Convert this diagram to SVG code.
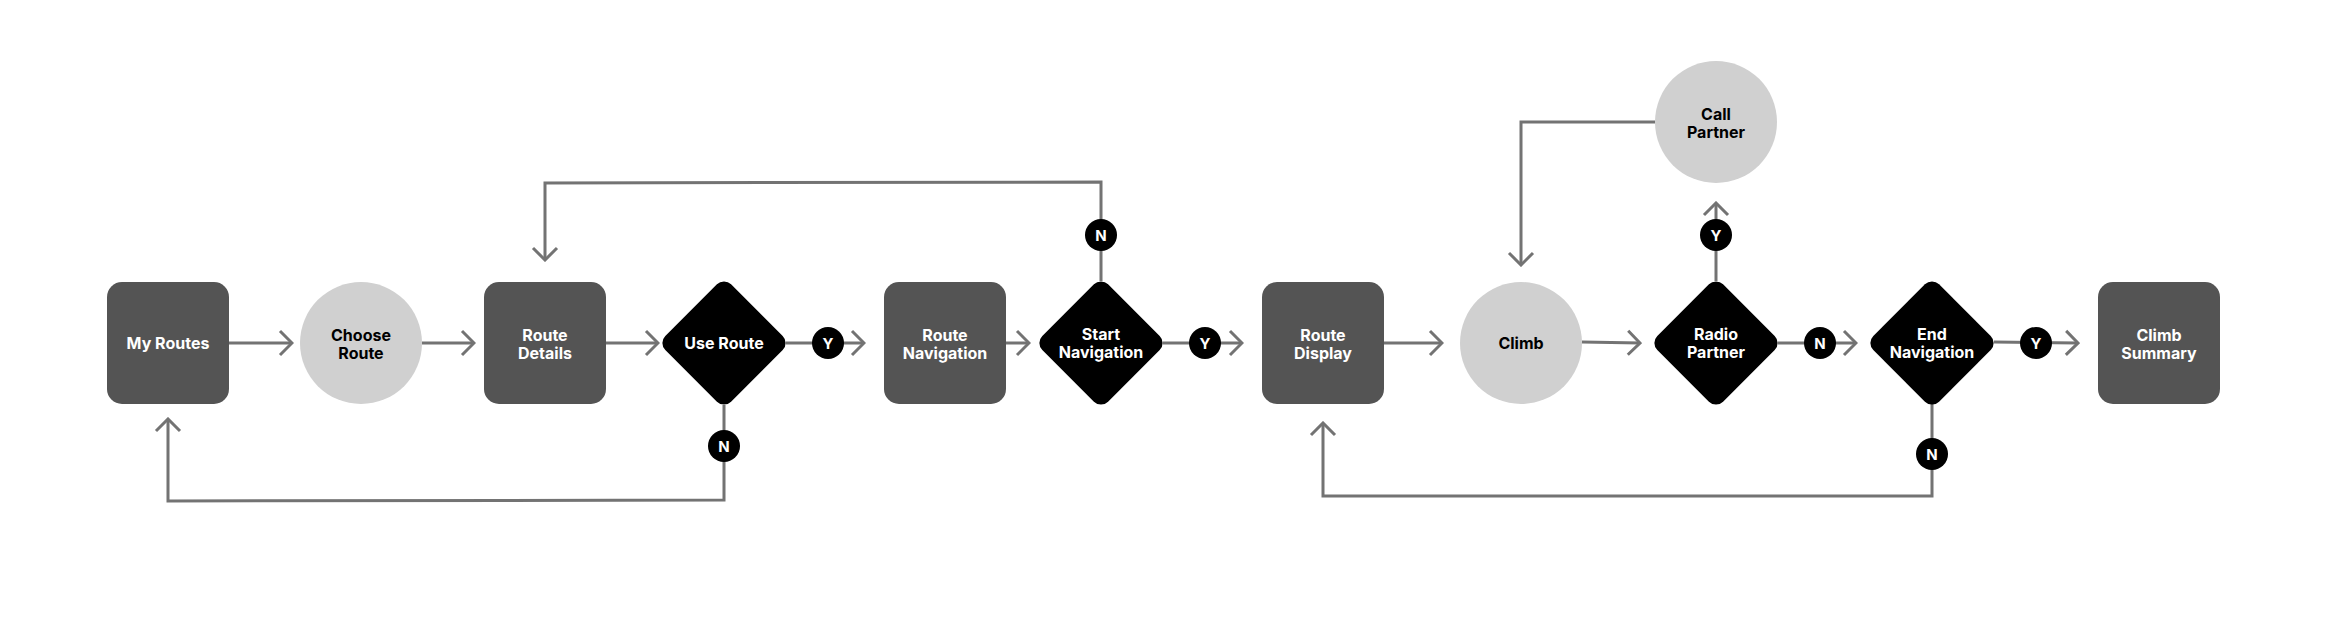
<svg xmlns="http://www.w3.org/2000/svg" width="2327" height="620" viewBox="0 0 2327 620">
<style>
.box{fill:#545454}
.circ{fill:#d0d0d0}
.dia{fill:#000}
.lbl{font-family:Inter,"Noto Sans","Liberation Sans",sans-serif;font-weight:700;font-size:16px;text-anchor:middle}
.w{fill:#fff}
.k{fill:#000}
.con{fill:none;stroke:#737373;stroke-width:3}
.badge{fill:#000}
.bt{font-family:Inter,"Noto Sans","Liberation Sans",sans-serif;font-weight:700;font-size:15px;text-anchor:middle;fill:#fff}
</style>
<defs>
<marker id="arr" viewBox="0 0 16 28" refX="14" refY="14" markerWidth="16" markerHeight="28" orient="auto" markerUnits="userSpaceOnUse">
<path d="M2,2 L14,14 L2,26" fill="none" stroke="#737373" stroke-width="3"/>
</marker>
</defs>
<rect width="2327" height="620" fill="#fff"/>
<g id="connectors">
<path class="con" d="M228,343 H292" marker-end="url(#arr)"/>
<path class="con" d="M422,343 H474" marker-end="url(#arr)"/>
<path class="con" d="M606,343 H658" marker-end="url(#arr)"/>
<path class="con" d="M786,343 H864" marker-end="url(#arr)"/>
<path class="con" d="M1006,343 H1029" marker-end="url(#arr)"/>
<path class="con" d="M1163,343 H1242" marker-end="url(#arr)"/>
<path class="con" d="M1383,343 H1442" marker-end="url(#arr)"/>
<path class="con" d="M1582,342 L1640,343" marker-end="url(#arr)"/>
<path class="con" d="M1778,343 H1856" marker-end="url(#arr)"/>
<path class="con" d="M1994,342 L2078,343" marker-end="url(#arr)"/>
<path class="con" d="M1716,281 V203" marker-end="url(#arr)"/>
<path class="con" d="M1655,122 H1521 V265" marker-end="url(#arr)"/>
<path class="con" d="M1101,281 V182 L545,183 V260" marker-end="url(#arr)"/>
<path class="con" d="M724,405 V500 L168,501 V419" marker-end="url(#arr)"/>
<path class="con" d="M1932,404 V496 H1323 V423" marker-end="url(#arr)"/>
<g id="badges">
<circle class="badge" cx="1101" cy="235" r="16"/><text class="bt" x="1101" y="240.5">N</text>
<circle class="badge" cx="724" cy="446" r="16"/><text class="bt" x="724" y="451.5">N</text>
<circle class="badge" cx="828" cy="343" r="16"/><text class="bt" x="828" y="348.5">Y</text>
<circle class="badge" cx="1205" cy="343" r="16"/><text class="bt" x="1205" y="348.5">Y</text>
<circle class="badge" cx="1716" cy="235" r="16"/><text class="bt" x="1716" y="240.5">Y</text>
<circle class="badge" cx="1820" cy="343" r="16"/><text class="bt" x="1820" y="348.5">N</text>
<circle class="badge" cx="2036" cy="343" r="16"/><text class="bt" x="2036" y="348.5">Y</text>
<circle class="badge" cx="1932" cy="454" r="16"/><text class="bt" x="1932" y="459.5">N</text>
</g>
</g>
<g id="my-routes">
<rect class="box" x="107" y="282" width="122" height="122" rx="15"/>
<text class="lbl w" x="168" y="349">My Routes</text>
</g>
<g id="choose-route">
<circle class="circ" cx="361" cy="343" r="61"/>
<text class="lbl k" x="361" y="341">Choose</text>
<text class="lbl k" x="361" y="359">Route</text>
</g>
<g id="route-details">
<rect class="box" x="484" y="282" width="122" height="122" rx="15"/>
<text class="lbl w" x="545" y="341">Route</text>
<text class="lbl w" x="545" y="359">Details</text>
</g>
<g id="use-route">
<rect class="dia" x="677.5" y="296.5" width="93" height="93" rx="10" transform="rotate(45 724 343)"/>
<text class="lbl w" x="724" y="349">Use Route</text>
</g>
<g id="route-navigation">
<rect class="box" x="884" y="282" width="122" height="122" rx="15"/>
<text class="lbl w" x="945" y="341">Route</text>
<text class="lbl w" x="945" y="359">Navigation</text>
</g>
<g id="start-navigation">
<rect class="dia" x="1054.5" y="296.5" width="93" height="93" rx="10" transform="rotate(45 1101 343)"/>
<text class="lbl w" x="1101" y="340">Start</text>
<text class="lbl w" x="1101" y="358">Navigation</text>
</g>
<g id="route-display">
<rect class="box" x="1262" y="282" width="122" height="122" rx="15"/>
<text class="lbl w" x="1323" y="341">Route</text>
<text class="lbl w" x="1323" y="359">Display</text>
</g>
<g id="climb">
<circle class="circ" cx="1521" cy="343" r="61"/>
<text class="lbl k" x="1521" y="349">Climb</text>
</g>
<g id="radio-partner">
<rect class="dia" x="1669.5" y="296.5" width="93" height="93" rx="10" transform="rotate(45 1716 343)"/>
<text class="lbl w" x="1716" y="340">Radio</text>
<text class="lbl w" x="1716" y="358">Partner</text>
</g>
<g id="call-partner">
<circle class="circ" cx="1716" cy="122" r="61"/>
<text class="lbl k" x="1716" y="120">Call</text>
<text class="lbl k" x="1716" y="138">Partner</text>
</g>
<g id="end-navigation">
<rect class="dia" x="1885.5" y="296.5" width="93" height="93" rx="10" transform="rotate(45 1932 343)"/>
<text class="lbl w" x="1932" y="340">End</text>
<text class="lbl w" x="1932" y="358">Navigation</text>
</g>
<g id="climb-summary">
<rect class="box" x="2098" y="282" width="122" height="122" rx="15"/>
<text class="lbl w" x="2159" y="341">Climb</text>
<text class="lbl w" x="2159" y="359">Summary</text>
</g>
</svg>
